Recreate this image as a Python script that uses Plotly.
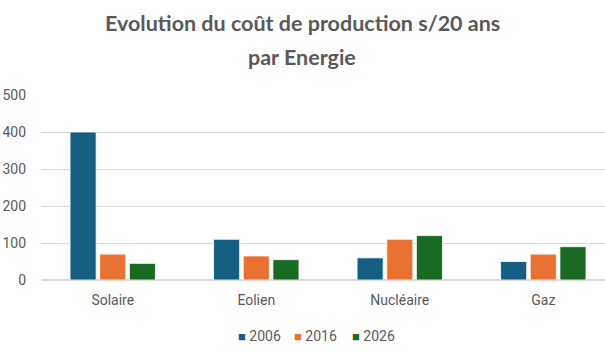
import plotly.graph_objects as go

categories = ["Solaire", "Eolien", "Nucléaire", "Gaz"]
years = ["2006", "2016", "2026"]
v2006 = [400, 110, 60, 50]
v2016 = [70, 65, 110, 70]
v2026 = [45, 55, 120, 90]
colors = ["#156082", "#E97132", "#196B24"]
tickvals_y = [0, 100, 200, 300, 400, 500]
title_lines = ["Evolution du coût de production s/20 ans", "par Energie"]

fig = go.Figure()
for name, vals, col in zip(years, [v2006, v2016, v2026], colors):
    fig.add_trace(go.Bar(x=categories, y=vals, name=name, showlegend=False,
                         marker=dict(color=col, line=dict(color="white", width=0.8))))

plot_top, plot_bottom = 95, 280
plot_left, plot_right = 41, 605
def ypaper(py):
    return (plot_bottom - py) / (plot_bottom - plot_top)
def xpaper(px):
    return (px - plot_left) / (plot_right - plot_left)

annotations = []
for py, line in zip([23, 57], title_lines):
    annotations.append(dict(text="<b>" + line + "</b>", x=xpaper(302), xref="paper", xanchor="center",
                            y=ypaper(py), yref="paper", yanchor="middle", showarrow=False,
                            font=dict(family="Lato, Open Sans, sans-serif", size=21.5, color="#595959")))

# Legend built as text annotation
leg_x_px = [236, 292, 350]
for x_px, name, col in zip(leg_x_px, years, colors):
    annotations.append(dict(text="<span style='color:%s;font-size:13px'>■</span> %s" % (col, name),
                            x=xpaper(x_px), xref="paper", xanchor="left",
                            y=ypaper(336), yref="paper", yanchor="middle", showarrow=False,
                            font=dict(family="Roboto, Liberation Sans, Arial", size=14, color="#595959")))

fig.update_layout(
    width=605, height=353,
    margin=dict(l=plot_left, r=605 - plot_right, t=plot_top, b=353 - plot_bottom),
    paper_bgcolor="white", plot_bgcolor="white",
    font=dict(family="Roboto, Liberation Sans, Arial", size=14, color="#595959"),
    barmode="group", bargap=0.38, bargroupgap=0.12,
    showlegend=False,
    annotations=annotations,
    xaxis=dict(range=[-0.5, 3.43], showgrid=False, showline=False, ticks="",
               ticklabelstandoff=10, tickfont=dict(size=14, color="#595959")),
    yaxis=dict(range=[0, 500], tickvals=tickvals_y, showgrid=True, gridcolor="#D9D9D9", gridwidth=1,
               zeroline=True, zerolinecolor="#D9D9D9", zerolinewidth=1.5, ticks="", ticklabelstandoff=14,
               tickfont=dict(size=14, color="#595959")),
)
fig.write_html("out.html")
